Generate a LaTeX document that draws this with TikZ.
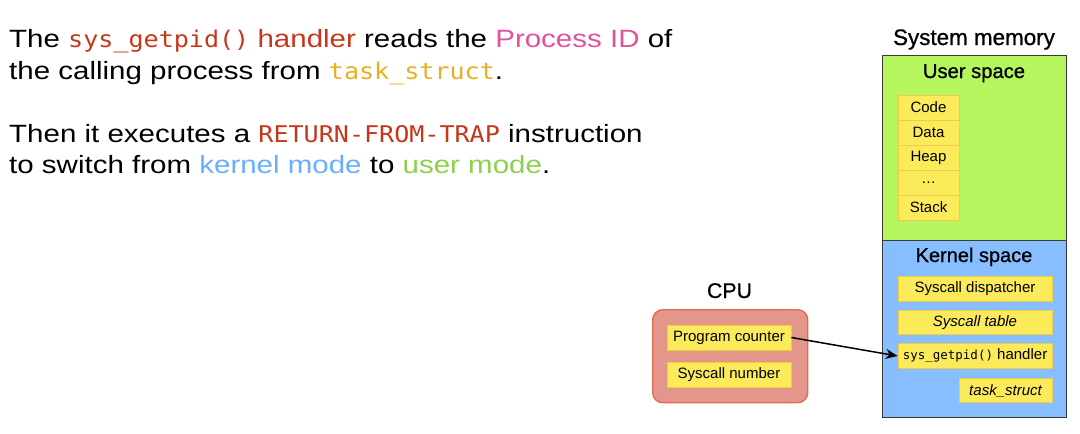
\documentclass[tikz,border=0pt]{standalone}
\usepackage{fontspec}
\setmainfont{Liberation Sans}
\newfontfamily\monof{DejaVu Sans Mono}[FakeStretch=1.09]
\newfontfamily\monoplain{DejaVu Sans Mono}
\newfontfamily\widesans{Liberation Sans}[FakeStretch=1.18]
\newfontfamily\titlesans{Liberation Sans}[FakeBold=0.8]
\usetikzlibrary{arrows.meta}
\definecolor{hred}{HTML}{C8361A}
\definecolor{pid}{HTML}{E0529C}
\definecolor{tgold}{HTML}{E8B020}
\definecolor{kblue}{HTML}{6AAEFF}
\definecolor{ugreen}{HTML}{8ED04A}
\definecolor{userfill}{HTML}{B5F65F}
\definecolor{kernfill}{HTML}{86BEFF}
\definecolor{yfill}{HTML}{FBEA5A}
\definecolor{ybord}{HTML}{F0CB45}
\definecolor{cpufill}{HTML}{E4968A}
\definecolor{cpubord}{HTML}{E06A50}
\definecolor{memline}{HTML}{3A3A3A}
\newcommand\codetxt[2]{{\monof\fontsize{#1}{#1}\selectfont #2}}
\begin{document}
\begin{tikzpicture}[x=1pt,y=-1pt,
  maintext/.style={anchor=base west, inner sep=0, font=\widesans\fontsize{25}{30}\selectfont},
  title/.style={inner sep=0, anchor=base},
  ybox/.style={draw=ybord, fill=yfill, line width=0.8pt, inner sep=0,
    minimum height=24.5, font=\fontsize{15}{17}\selectfont},
  membox/.style={draw=memline, line width=0.9pt, inner sep=0, anchor=north west, minimum width=184}
]
\useasboundingbox (0,0) rectangle (1080,434);
% text
\node[maintext] (t1) at (9,47) {The \textcolor{hred}{\codetxt{23}{sys\_getpid()} handler} reads the \textcolor{pid}{Process ID} of};
\node[maintext] (t2) at (9,79) {the calling process from \textcolor{tgold}{\codetxt{23}{task\_struct}}.};
\node[maintext] (t3) at (9,142) {Then it executes a \textcolor{hred}{\codetxt{23}{RETURN-FROM-TRAP}} instruction};
\node[maintext] (t4) at (9,173) {to switch from \textcolor{kblue}{kernel mode} to \textcolor{ugreen}{user mode}.};
% memory
\node[title, font=\titlesans\fontsize{22.4}{24}\selectfont] (memtitle) at (974,45) {System memory};
\node[membox, fill=userfill, minimum height=185] (user) at (882,55) {};
\node[membox, fill=kernfill, minimum height=177] (kern) at (882,240) {};
\node[title, font=\titlesans\fontsize{20.2}{22}\selectfont] (ulabel) at (974,78) {User space};
\node[title, font=\titlesans\fontsize{20}{22}\selectfont] (klabel) at (974,262) {Kernel space};
\foreach \n/\t [count=\i from 0] in {code/Code,data/Data,heap/Heap,dots/\dots,stack/Stack}{
  \node[ybox, minimum width=61, minimum height=25] (\n) at (928.5,107.5+25*\i) {\t};
}
\node[ybox, minimum width=154] (disp) at (975,289) {Syscall dispatcher};
\node[ybox, minimum width=154] (table) at (975,322.5) {\itshape Syscall table};
\node[ybox, minimum width=154] (handler) at (975,356) {{\monoplain\fontsize{12.5}{13}\selectfont sys\_getpid()} handler};
\node[ybox, minimum width=93] (task) at (1005.5,390.5) {\itshape task\_struct};
% CPU
\node[title, font=\titlesans\fontsize{21.3}{23}\selectfont] (cputitle) at (729.5,298) {CPU};
\node[draw=cpubord, fill=cpufill, line width=1.4pt, rounded corners=10, inner sep=0,
  minimum width=155, minimum height=93, anchor=north west] (cpu) at (652,309) {};
\node[ybox, minimum width=124, minimum height=25] (pc) at (729,337.5) {Program counter};
\node[ybox, minimum width=124, minimum height=25] (scn) at (729,374.5) {Syscall number};
% arrow
\draw[line width=1.5pt, -{Stealth[length=12,width=10]}] (pc.east) -- (handler.west);
\end{tikzpicture}
\end{document}
